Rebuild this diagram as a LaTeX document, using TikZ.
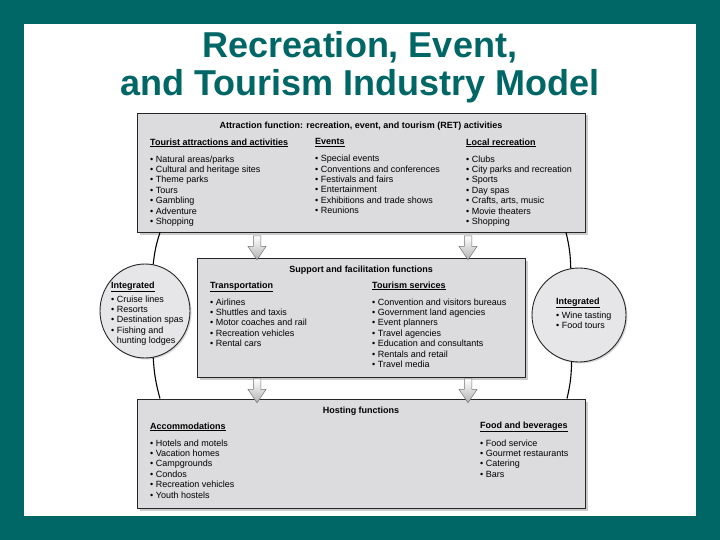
\documentclass[tikz,border=0pt]{standalone}
\usepackage{fontspec}
\setmainfont{Liberation Sans}
\usepackage{xcolor}
\definecolor{slideteal}{HTML}{006666}
\definecolor{boxgray}{HTML}{DCDCDE}
\definecolor{circgray}{HTML}{E6E6E8}
\usetikzlibrary{arrows.meta,positioning,shapes.geometric,shapes.arrows,calc,shadows}
\tikzset{
  ttl/.style={align=center, inner sep=0pt, text=slideteal,
              font=\fontsize{36}{38}\selectfont\bfseries},
  fbox/.style={draw=black!85, fill=boxgray, line width=0.9pt, inner sep=0pt,
               drop shadow={shadow xshift=2.5pt, shadow yshift=-2.5pt, opacity=0.4}},
  fcirc/.style={ellipse, draw=black!85, fill=circgray, line width=0.9pt, inner sep=0pt,
                drop shadow={shadow xshift=1.5pt, shadow yshift=-1.5pt, opacity=0.3}},
  fhead/.style={anchor=base, inner sep=0pt, font=\fontsize{9}{10.4}\selectfont\bfseries},
  flist/.style={anchor=north west, align=left, inner sep=0pt,
                font=\fontsize{9}{10.4}\selectfont},
  barrow/.style={single arrow, shape border rotate=270, draw=black!55, line width=0.5pt,
                 top color=white, bottom color=black!30, inner sep=3.5pt,
                 minimum height=24pt, single arrow head extend=5.25pt,
                 single arrow tip angle=68},
  link/.style={draw=black, line width=1.1pt},
}
\newcommand{\hd}[1]{\textbf{\underline{#1}}}

\begin{document}
\begin{tikzpicture}[x=1pt,y=-1pt]
  % slide frame
  \fill[slideteal] (0,0) rectangle (720,540);
  \fill[white] (24,24) rectangle (696,516);
  \useasboundingbox (0,0) rectangle (720,540);

  \node[ttl, anchor=north] (title) at (360,31.5) {Recreation, Event,\\and Tourism Industry Model};

  % three function boxes
  \node[fbox, minimum width=448pt, minimum height=119pt] (attr) at (361,172.5) {};
  \node[fbox, minimum width=328pt, minimum height=119pt] (supp) at (361,317.5) {};
  \node[fbox, minimum width=448pt, minimum height=109pt] (host) at (361,453.5) {};

  % integrated circles
  \node[fcirc, minimum width=90pt, minimum height=94pt] (lcirc) at (145,311) {};
  \node[fcirc, minimum width=94pt, minimum height=94pt] (rcirc) at (579,315) {};

  % attraction function
  \node[fhead] (attrh) at (361,128.5) {Attraction function: recreation, event, and tourism (RET) activities};
  \node[flist] (tour) at (150,138.4) {\hd{Tourist attractions and activities}\\[6.6pt]
    • Natural areas/parks\\ • Cultural and heritage sites\\ • Theme parks\\ • Tours\\
    • Gambling\\ • Adventure\\ • Shopping};
  \node[flist] (evts) at (315,138.4) {\hd{Events}\\[6.6pt]
    • Special events\\ • Conventions and conferences\\ • Festivals and fairs\\
    • Entertainment\\ • Exhibitions and trade shows\\ • Reunions};
  \node[flist] (locr) at (466,138.4) {\hd{Local recreation}\\[6.6pt]
    • Clubs\\ • City parks and recreation\\ • Sports\\ • Day spas\\
    • Crafts, arts, music\\ • Movie theaters\\ • Shopping};

  % support and facilitation
  \node[fhead] (supph) at (361,272) {Support and facilitation functions};
  \node[flist] (trans) at (210,281.4) {\hd{Transportation}\\[6.6pt]
    • Airlines\\ • Shuttles and taxis\\ • Motor coaches and rail\\
    • Recreation vehicles\\ • Rental cars};
  \node[flist] (tserv) at (372,281.4) {\hd{Tourism services}\\[6.6pt]
    • Convention and visitors bureaus\\ • Government land agencies\\ • Event planners\\
    • Travel agencies\\ • Education and consultants\\ • Rentals and retail\\ • Travel media};

  % hosting
  \node[fhead] (hosth) at (361,413) {Hosting functions};
  \node[flist] (accom) at (150,422.4) {\hd{Accommodations}\\[6.6pt]
    • Hotels and motels\\ • Vacation homes\\ • Campgrounds\\ • Condos\\
    • Recreation vehicles\\ • Youth hostels};
  \node[flist] (food) at (480,421.4) {\hd{Food and beverages}\\[6.6pt]
    • Food service\\ • Gourmet restaurants\\ • Catering\\ • Bars};

  % circle texts
  \node[flist] (ltext) at (111,281.4) {\hd{Integrated}\\[2.6pt]
    • Cruise lines\\ • Resorts\\ • Destination spas\\ • Fishing and\\ \hphantom{•}\ hunting lodges};
  \node[flist] (rtext) at (556,297.4) {\hd{Integrated}\\[2.6pt]
    • Wine tasting\\ • Food tours};

  % block arrows between levels
  \coordinate (a1) at (257,0);
  \coordinate (a2) at (468,0);
  \path (attr.south -| a1) -- (supp.north -| a1) node[barrow, midway] (ar1) {};
  \path (attr.south -| a2) -- (supp.north -| a2) node[barrow, midway] (ar2) {};
  \path (supp.south -| a1) -- (host.north -| a1) node[barrow, midway] (ar3) {};
  \path (supp.south -| a2) -- (host.north -| a2) node[barrow, midway] (ar4) {};

  % ring through the circles
  \coordinate (l1) at (160,0);
  \coordinate (l2) at (160,0);
  \coordinate (r1) at (566,0);
  \coordinate (r2) at (567,0);
  \draw[link] (attr.south -| l1) to[bend right=6] (lcirc.80);
  \draw[link] (lcirc.280) to[bend right=6] (host.north -| l2);
  \draw[link] (attr.south -| r1) to[bend left=6] (rcirc.100);
  \draw[link] (rcirc.261) to[bend left=6] (host.north -| r2);
\end{tikzpicture}
\end{document}
